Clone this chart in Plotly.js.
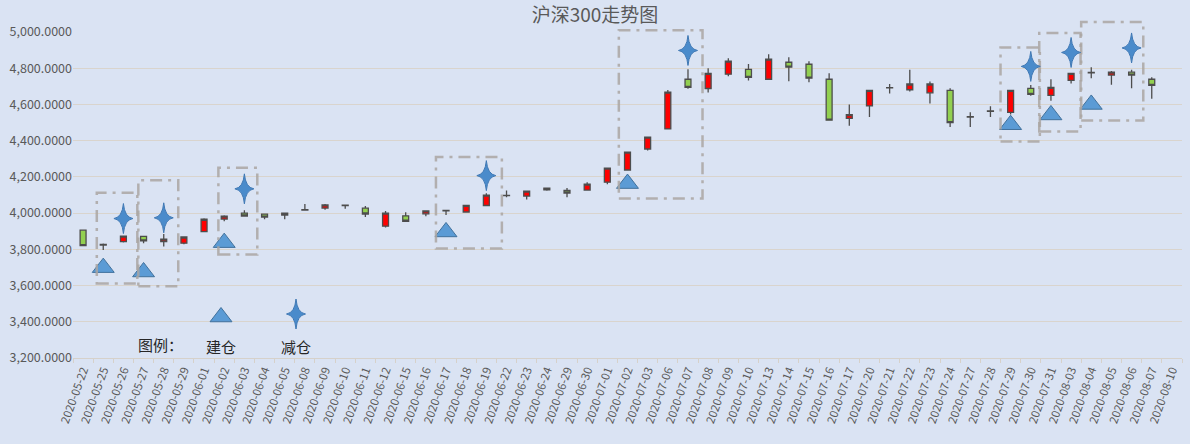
<!DOCTYPE html>
<html>
<head>
<meta charset="utf-8">
<script src="https://cdn.plot.ly/plotly-3.0.1.min.js"></script>
<style>
  html, body { margin: 0; padding: 0; background: #dae3f3; }
  #chart { width: 1190px; height: 444px; }
</style>
</head>
<body>
<div id="chart"></div>
<script>
// trading days shown on the category axis (last one has no candle)
var dates = [
  "2020-05-22", "2020-05-25", "2020-05-26", "2020-05-27", "2020-05-28", "2020-05-29",
  "2020-06-01", "2020-06-02", "2020-06-03", "2020-06-04", "2020-06-05", "2020-06-08",
  "2020-06-09", "2020-06-10", "2020-06-11", "2020-06-12", "2020-06-15", "2020-06-16",
  "2020-06-17", "2020-06-18", "2020-06-19", "2020-06-22", "2020-06-23", "2020-06-24",
  "2020-06-29", "2020-06-30", "2020-07-01", "2020-07-02", "2020-07-03", "2020-07-06",
  "2020-07-07", "2020-07-08", "2020-07-09", "2020-07-10", "2020-07-13", "2020-07-14",
  "2020-07-15", "2020-07-16", "2020-07-17", "2020-07-20", "2020-07-21", "2020-07-22",
  "2020-07-23", "2020-07-24", "2020-07-27", "2020-07-28", "2020-07-29", "2020-07-30",
  "2020-07-31", "2020-08-03", "2020-08-04", "2020-08-05", "2020-08-06", "2020-08-07",
  "2020-08-10"
];

var openP = [
  3906, 3824, 3843, 3871, 3843, 3834, 3898, 3967, 4000, 3994, 3989, 4017,
  4028, 4044, 4027, 3928, 3985, 3996, 4013, 4006, 4042, 4098, 4094, 4128,
  4126, 4127, 4171, 4238, 4354, 4465, 4739, 4688, 4767, 4794, 4739, 4833,
  4822, 4739, 4523, 4592, 4691, 4681, 4664, 4678, 4530, 4562, 4556, 4689,
  4650, 4733, 4775, 4762, 4778, 4739, null
];
var highP = [
  3908, 3832, 3876, 3874, 3884, 3872, 3972, 3988, 4016, 3997, 4001, 4050,
  4050, 4046, 4039, 4011, 4005, 4014, 4017, 4046, 4110, 4125, 4123, 4142,
  4138, 4171, 4250, 4340, 4422, 4680, 4794, 4800, 4855, 4824, 4877, 4861,
  4839, 4772, 4600, 4680, 4713, 4791, 4726, 4689, 4557, 4590, 4680, 4707,
  4739, 4774, 4805, 4785, 4791, 4750, null
];
var lowP = [
  3818, 3797, 3838, 3833, 3816, 3828, 3896, 3955, 3980, 3966, 3966, 4015,
  4018, 4024, 3978, 3921, 3952, 3983, 3989, 4003, 4040, 4087, 4075, 4124,
  4088, 4125, 4160, 4236, 4346, 4463, 4686, 4666, 4756, 4732, 4737, 4728,
  4723, 4511, 4483, 4531, 4661, 4672, 4605, 4476, 4476, 4531, 4544, 4648,
  4620, 4715, 4745, 4709, 4689, 4631, null
];
var closeP = [
  3821, 3827, 3873, 3847, 3856, 3868, 3966, 3983, 3984, 3978, 4000, 4019,
  4045, 4042, 3995, 4000, 3955, 4012, 4015, 4043, 4099, 4096, 4121, 4138,
  4111, 4160, 4248, 4337, 4420, 4668, 4694, 4772, 4839, 4750, 4850, 4806,
  4745, 4513, 4544, 4678, 4693, 4713, 4713, 4500, 4532, 4564, 4678, 4656,
  4694, 4772, 4777, 4778, 4762, 4705, null
];

// 建仓 (build position) markers
var buyDates = ["2020-05-25", "2020-05-27", "2020-06-02", "2020-06-17",
                "2020-07-02", "2020-07-29", "2020-07-31", "2020-08-04"];
var buyLevels = [3699, 3675, 3837, 3896, 4163, 4488, 4542, 4600];

// 减仓 (reduce position) markers
var sellDates = ["2020-05-26", "2020-05-28", "2020-06-03", "2020-06-19",
                 "2020-07-07", "2020-07-30", "2020-08-03", "2020-08-06"];
var sellLevels = [3970, 3974, 4134, 4207, 4898, 4810, 4887, 4912];

// dashed trade windows: [from index, to index, top value, bottom value]
var tradeZones = [
  [0.68, 2.69, 4112, 3611],
  [2.74, 4.72, 4181, 3596],
  [6.71, 8.64, 4250, 3771],
  [17.5, 20.77, 4310, 3804],
  [26.57, 30.72, 5009, 4080],
  [45.5, 47.45, 4915, 4395],
  [47.42, 49.47, 4994, 4450],
  [49.5, 52.58, 5055, 4512]
];

var yRange = [3200, 5000];
var W = 1190, H = 444;
var M = { l: 73, r: 8, t: 32, b: 86 };
var plotW = W - M.l - M.r, plotH = H - M.t - M.b;

var textGrey = "#595959";
var blue = "#5b9bd5";
var starBlue = "#4a8bcb";
var FONT = "'Noto Sans CJK SC', 'Noto Sans', sans-serif";

// helpers from category index / value to paper coords (so boxes can overflow the plot)
function catToPaper(i) { return (i + 0.5) / dates.length; }
function valToPaper(v) { return (v - yRange[0]) / (yRange[1] - yRange[0]); }
function pxX(x) { return (x - M.l) / plotW; }
function pxY(y) { return (H - M.b - y) / plotH; }

// tall four point star, in pixels around its anchor
function starPath(w, h) {
  var c = 1.2;
  return "M0," + h + " Q" + c + "," + c + " " + w + ",0" +
         " Q" + c + ",-" + c + " 0,-" + h +
         " Q-" + c + ",-" + c + " -" + w + ",0" +
         " Q-" + c + "," + c + " 0," + h + " Z";
}

function starShape(xa, ya, ref) {
  return {
    type: "path",
    xref: ref ? "paper" : "x",
    yref: ref ? "paper" : "y",
    xsizemode: "pixel",
    ysizemode: "pixel",
    xanchor: xa,
    yanchor: ya,
    path: starPath(9.5, 15),
    fillcolor: starBlue,
    line: { color: "#3f78b4", width: 1 },
    layer: "above"
  };
}

var candles = {
  type: "candlestick",
  x: dates,
  open: openP,
  high: highP,
  low: lowP,
  close: closeP,
  increasing: { fillcolor: "#ff0000", line: { color: "#4d4d4d", width: 1.3 } },
  decreasing: { fillcolor: "#92d050", line: { color: "#4d4d4d", width: 1.3 } },
  whiskerwidth: 0,
  hoverinfo: "skip",
  showlegend: false
};

var buys = {
  type: "scatter",
  mode: "markers",
  x: buyDates,
  y: buyLevels,
  marker: { symbol: "triangle-up", size: 19, color: blue, line: { color: "#41719c", width: 1 } },
  hoverinfo: "skip",
  showlegend: false
};

// legend triangle on an overlay axis laid out in paper units
var legendTri = {
  type: "scatter",
  mode: "markers",
  xaxis: "x2",
  yaxis: "y2",
  x: [pxX(221)],
  y: [pxY(317)],
  marker: { symbol: "triangle-up", size: 19, color: blue, line: { color: "#41719c", width: 1 } },
  hoverinfo: "skip",
  showlegend: false
};

var shapes = tradeZones.map(function(z) {
  return {
    type: "rect",
    xref: "paper", yref: "paper",
    x0: catToPaper(z[0]), x1: catToPaper(z[1]),
    y0: valToPaper(z[3]), y1: valToPaper(z[2]),
    line: { color: "rgba(170,166,162,0.85)", width: 2.5, dash: "12px,6px,3px,6px" },
    fillcolor: "rgba(0,0,0,0)",
    layer: "above"
  };
});

sellDates.forEach(function(d, i) {
  shapes.push(starShape(dates.indexOf(d), sellLevels[i], false));
});
shapes.push(starShape(pxX(296), pxY(314), true));

var annotations = [
  { text: "图例：", x: pxX(160), y: pxY(344) },
  { text: "建仓", x: pxX(221), y: pxY(346) },
  { text: "减仓", x: pxX(296), y: pxY(346) }
].map(function(a) {
  return {
    text: a.text, x: a.x, y: a.y, xref: "paper", yref: "paper",
    showarrow: false, xanchor: "center", yanchor: "middle",
    font: { family: FONT, size: 15, color: "#262626" }
  };
});

var layout = {
  width: W,
  height: H,
  margin: M,
  paper_bgcolor: "#dae3f3",
  plot_bgcolor: "#dae3f3",
  font: { family: FONT, color: textGrey },
  title: {
    text: "沪深300走势图",
    x: 0.5, xanchor: "center",
    y: 1 - 15 / H, yanchor: "middle",
    font: { family: FONT, size: 19, color: textGrey }
  },
  boxgap: 0.58,
  hovermode: false,
  xaxis: {
    type: "category",
    categoryorder: "array",
    categoryarray: dates,
    range: [-0.5, dates.length - 0.5],
    rangeslider: { visible: false },
    tickangle: -70,
    tickfont: { family: FONT, size: 11.5, color: textGrey },
    ticks: "outside",
    tickson: "boundaries",
    ticklen: 4,
    tickcolor: "#d6d1ca",
    showline: true,
    linecolor: "#d6d1ca",
    linewidth: 1,
    showgrid: false,
    fixedrange: true
  },
  yaxis: {
    range: yRange,
    dtick: 200,
    tickformat: ",.4f",
    tickfont: { family: FONT, size: 12.5, color: textGrey },
    gridcolor: "#d9d4cd",
    gridwidth: 1,
    zeroline: false,
    showline: false,
    ticks: "",
    fixedrange: true
  },
  xaxis2: { overlaying: "x", range: [0, 1], visible: false, fixedrange: true },
  yaxis2: { overlaying: "y", range: [0, 1], visible: false, fixedrange: true },
  shapes: shapes,
  annotations: annotations
};

Plotly.newPlot("chart", [candles, buys, legendTri], layout, { displayModeBar: false, staticPlot: true });
</script>
</body>
</html>
